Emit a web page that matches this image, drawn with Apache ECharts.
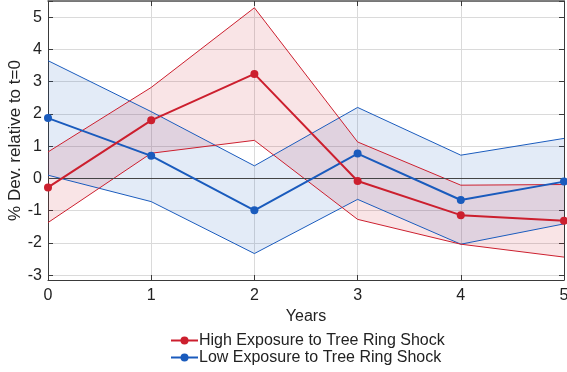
<!DOCTYPE html>
<html>
<head>
<meta charset="utf-8">
<script src="https://cdn.jsdelivr.net/npm/echarts@6/dist/echarts.min.js"></script>
<style>
  html, body { margin: 0; padding: 0; background: #fff; }
  #chart { width: 567px; height: 372px; }
</style>
</head>
<body>
<div id="chart"></div>
<script>
// Event-time horizon (years since shock)
const years = [0, 1, 2, 3, 4, 5];
const yTicks = [-3, -2, -1, 0, 1, 2, 3, 4, 5];

// High exposure group: point estimate and confidence band
const highMean  = [-0.28, 1.80, 3.24, -0.08, -1.14, -1.31];
const highUpper = [0.82, 2.82, 5.29, 1.13, -0.21, -0.19];
const highLower = [-1.37, 0.78, 1.18, -1.27, -2.04, -2.44];

// Low exposure group: point estimate and confidence band
const lowMean  = [1.87, 0.70, -0.99, 0.77, -0.67, -0.10];
const lowUpper = [3.65, 2.07, 0.39, 2.20, 0.72, 1.24];
const lowLower = [0.10, -0.72, -2.33, -0.65, -2.04, -1.41];

const RED = '#cc1f2e';
const BLUE = '#1a5bbd';
const FONT = '"Liberation Sans", Arial, Helvetica, sans-serif';

const pairs = (xs, ys) => xs.map((x, i) => [x, ys[i]]);

// Shaded band polygon built through the axis scales
function bandSeries(upper, lower, fill) {
  return {
    type: 'custom',
    silent: true,
    z: 1,
    data: [0],
    renderItem: function (params, api) {
      const pts = [];
      years.forEach((x, i) => pts.push(api.coord([x, upper[i]])));
      for (let i = years.length - 1; i >= 0; i--) pts.push(api.coord([years[i], lower[i]]));
      return {
        type: 'polygon',
        shape: { points: pts },
        style: { fill: fill, stroke: null }
      };
    }
  };
}

function edgeLine(values, color) {
  return {
    type: 'line',
    silent: true,
    z: 3,
    data: pairs(years, values),
    symbol: 'none',
    lineStyle: { color: color, width: 1 }
  };
}

function meanLine(name, values, color) {
  return {
    name: name,
    type: 'line',
    z: 5,
    data: pairs(years, values),
    symbol: 'circle',
    symbolSize: 8,
    itemStyle: { color: color },
    lineStyle: { color: color, width: 2 }
  };
}

const axisColor = '#3a3a3a';

const chart = echarts.init(document.getElementById('chart'), null, { renderer: 'canvas' });
chart.setOption({
  animation: false,
  textStyle: { fontFamily: FONT },
  grid: { left: 48, right: 3, top: 1, bottom: 92, containLabel: false, outerBoundsMode: 'none' },
  xAxis: [{
    type: 'value', min: 0, max: 5, interval: 1,
    name: 'Years', nameLocation: 'middle', nameGap: 26,
    nameTextStyle: { fontSize: 16, color: '#222', fontFamily: FONT },
    axisLine: { show: true, onZero: false, lineStyle: { color: axisColor, width: 1 } },
    axisTick: { show: true, inside: true, length: 5, lineStyle: { color: axisColor } },
    axisLabel: { fontSize: 16, color: '#222', margin: 8, fontFamily: FONT },
    splitLine: { show: true, lineStyle: { color: '#dadada', width: 1 } }
  }, {
    type: 'value', min: 0, max: 5, interval: 1, position: 'top',
    axisLine: { show: true, onZero: false, lineStyle: { color: '#555', width: 1.5 } },
    axisTick: { show: true, inside: true, length: 5, lineStyle: { color: axisColor } },
    axisLabel: { show: false },
    splitLine: { show: false }
  }],
  yAxis: [{
    type: 'value', min: -3.15, max: 5.5, splitNumber: 8, minInterval: 1, maxInterval: 1,
    name: '% Dev. relative to t=0', nameLocation: 'middle', nameGap: 24, nameMoveOverlap: false,
    nameTextStyle: { fontSize: 17, color: '#222', fontFamily: FONT },
    axisLine: { show: true, onZero: false, lineStyle: { color: axisColor, width: 1 } },
    axisTick: { show: true, inside: true, length: 5, lineStyle: { color: axisColor } },
    axisLabel: {
      fontSize: 16, color: '#222', margin: 6, fontFamily: FONT,
      formatter: v => (yTicks.indexOf(Math.round(v * 100) / 100) >= 0 ? String(v) : '')
    },
    splitLine: { show: true, lineStyle: { color: '#dadada', width: 1 } }
  }, {
    type: 'value', min: -3.15, max: 5.5, splitNumber: 8, minInterval: 1, maxInterval: 1,
    position: 'right',
    axisLine: { show: true, onZero: false, lineStyle: { color: axisColor, width: 1 } },
    axisTick: { show: true, inside: true, length: 5, lineStyle: { color: axisColor } },
    axisLabel: { show: false },
    splitLine: { show: false }
  }],
  legend: {
    orient: 'vertical',
    left: 170, top: 332, padding: 0,
    itemWidth: 27, itemHeight: 10, itemGap: 0,
    textStyle: { fontSize: 16, lineHeight: 17, color: '#222', fontFamily: FONT, padding: [0, 0, 0, -4] },
    data: ['High Exposure to Tree Ring Shock', 'Low Exposure to Tree Ring Shock']
  },
  series: [
    bandSeries(lowUpper, lowLower, 'rgba(26, 91, 189, 0.12)'),
    bandSeries(highUpper, highLower, 'rgba(204, 31, 46, 0.12)'),
    edgeLine(lowUpper, BLUE),
    edgeLine(lowLower, BLUE),
    edgeLine(highUpper, RED),
    edgeLine(highLower, RED),
    {
      type: 'line', silent: true, z: 4, data: [], symbol: 'none',
      markLine: {
        silent: true, symbol: 'none', label: { show: false },
        lineStyle: { color: '#444', width: 1, type: 'solid' },
        data: [{ yAxis: 0 }]
      }
    },
    meanLine('Low Exposure to Tree Ring Shock', lowMean, BLUE),
    meanLine('High Exposure to Tree Ring Shock', highMean, RED)
  ]
});
</script>
</body>
</html>
